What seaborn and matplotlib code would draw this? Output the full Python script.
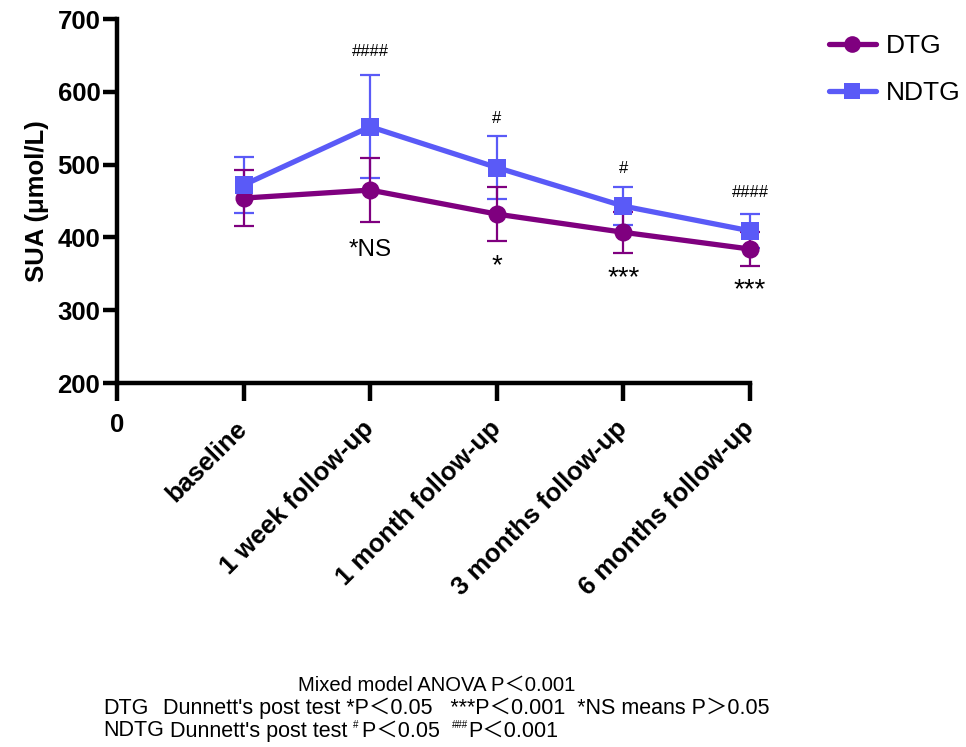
import matplotlib
matplotlib.use("Agg")
import matplotlib.pyplot as plt
import seaborn as sns
import pandas as pd
from matplotlib.lines import Line2D

# ---- data ----
timepoints = ["baseline", "1 week follow-up", "1 month follow-up",
              "3 months follow-up", "6 months follow-up"]
x_pos = [1, 2, 3, 4, 5]
dtg_mean = [454, 465, 432, 407, 384]
dtg_err = [38, 44, 37, 28, 23]
ndtg_mean = [472, 552, 496, 443, 409]
ndtg_err = [38, 71, 43, 26, 23]
groups = ["DTG", "NDTG"]
colors = {"DTG": "#7f007f", "NDTG": "#5a5af7"}
markers = {"DTG": "o", "NDTG": "s"}
yticks = [200, 300, 400, 500, 600, 700]

ndtg_ann = ["", "####", "#", "#", "####"]
ndtg_ann_y = [None, 655, 564, 495, 461]
dtg_ann = ["", "*NS", "*", "***", "***"]
dtg_ann_y = [None, 383, 360, 344, 328]

df = pd.DataFrame({
    "x": x_pos * 2,
    "SUA": dtg_mean + ndtg_mean,
    "group": ["DTG"] * 5 + ["NDTG"] * 5,
})

sns.set_style("ticks", {"axes.edgecolor": "black", "xtick.color": "black",
                        "ytick.color": "black", "text.color": "black",
                        "axes.labelcolor": "black"})
plt.rcParams["font.family"] = ["Liberation Sans", "Noto Sans CJK SC", "DejaVu Sans"]
foot_family = ["Liberation Sans", "Noto Sans CJK SC", "DejaVu Sans"]

fig = plt.figure(figsize=(9.66, 7.47), dpi=100)
ax = fig.add_axes([117 / 966, 1 - 383 / 747, 633 / 966, 364 / 747])

# error bars
for g, m, e in [("DTG", dtg_mean, dtg_err), ("NDTG", ndtg_mean, ndtg_err)]:
    ax.errorbar(x_pos, m, yerr=e, fmt="none", ecolor=colors[g],
                elinewidth=1.6, capsize=7, capthick=1.6, clip_on=False,
                zorder=3 if g == "DTG" else 2)

sns.lineplot(data=df, x="x", y="SUA", hue="group", style="group",
             palette=colors, markers=markers, dashes=False, ax=ax,
             linewidth=3.8, markersize=13, markeredgewidth=0,
             legend=False, zorder=4)
for ln in ax.lines:
    ln.set_clip_on(False)

ax.set_xlim(0, 5)
ax.set_ylim(200, 700)
ax.set_yticks(yticks)
ax.set_yticklabels([str(v) for v in yticks], fontsize=18.5, fontweight="bold")
ax.set_xticks([0] + x_pos)
labels = ax.set_xticklabels(["0"] + timepoints, fontsize=18.5, fontweight="bold")
for i, lab in enumerate(labels):
    lab.set_va("center")
    if i == 0:
        lab.set_rotation(0)
        lab.set_ha("center")
    else:
        lab.set_rotation(45)
        lab.set_ha("right")
        lab.set_rotation_mode("anchor")
ax.set_xlabel("")
ax.set_ylabel("SUA (μmol/L)", fontsize=18.5, fontweight="bold", labelpad=6)

sns.despine(ax=ax)
for s in ["left", "bottom"]:
    ax.spines[s].set_linewidth(3.2)
ax.tick_params(axis="y", length=10, width=3.2, pad=2)
ax.tick_params(axis="x", length=13, width=3.2, pad=17)

# annotations
for i in range(5):
    if ndtg_ann[i]:
        ax.text(x_pos[i], ndtg_ann_y[i], ndtg_ann[i], ha="center", va="center",
                fontsize=12)
    if dtg_ann[i]:
        ax.text(x_pos[i], dtg_ann_y[i], dtg_ann[i], ha="center", va="center",
                fontsize=17.5 if dtg_ann[i] == "*NS" else 20)

# legend
handles = [Line2D([0], [0], color=colors[g], marker=markers[g], linewidth=3.8,
                  markersize=12, markeredgewidth=0) for g in groups]
fig.legend(handles, groups, loc="upper left",
           bbox_to_anchor=(805 / 966, 1 - 10 / 747),
           frameon=False, fontsize=19, handlelength=1.78, handletextpad=0.38,
           labelspacing=0.9, borderpad=0.4)

# footer
fs_mix = 14.6
fs = 15.5
fig.text(437 / 966, 1 - 685 / 747, "Mixed model ANOVA P＜0.001", ha="center",
         va="center", fontsize=fs_mix, family=foot_family)
fig.text(103 / 966, 1 - 708 / 747, "DTG", ha="left", va="center", fontsize=fs,
         family=foot_family)
fig.text(163 / 966, 1 - 708 / 747,
         "Dunnett's post test *P＜0.05   ***P＜0.001  *NS means P＞0.05",
         ha="left", va="center", fontsize=fs, family=foot_family)
t0 = fig.text(103 / 966, 1 - 731 / 747, "NDTG", ha="left", va="center",
              fontsize=fs, family=foot_family)
t1 = fig.add_artist(plt.Annotation(" Dunnett's post test ", xy=(1, 0.5),
                                   xycoords=t0, va="center", ha="left",
                                   fontsize=fs, family=foot_family,
                                   annotation_clip=False))
s1 = fig.add_artist(plt.Annotation("#", xy=(1, 0.55), xycoords=t1,
                                   va="bottom", ha="left", fontsize=7,
                                   family=foot_family, annotation_clip=False))
s2 = fig.add_artist(plt.Annotation("P＜0.05  ", xy=(1, 0.5), xycoords=t1,
                                   xytext=(6, 0), textcoords="offset points",
                                   va="center", ha="left", fontsize=fs,
                                   family=foot_family, annotation_clip=False))
s3 = fig.add_artist(plt.Annotation("###", xy=(1, 0.55), xycoords=s2,
                                   va="bottom", ha="left", fontsize=7,
                                   family=foot_family, annotation_clip=False))
s4 = fig.add_artist(plt.Annotation("P＜0.001", xy=(1, 0.5), xycoords=s2,
                                   xytext=(12, 0), textcoords="offset points",
                                   va="center", ha="left", fontsize=fs,
                                   family=foot_family, annotation_clip=False))

fig.savefig("out.png", dpi=100)
